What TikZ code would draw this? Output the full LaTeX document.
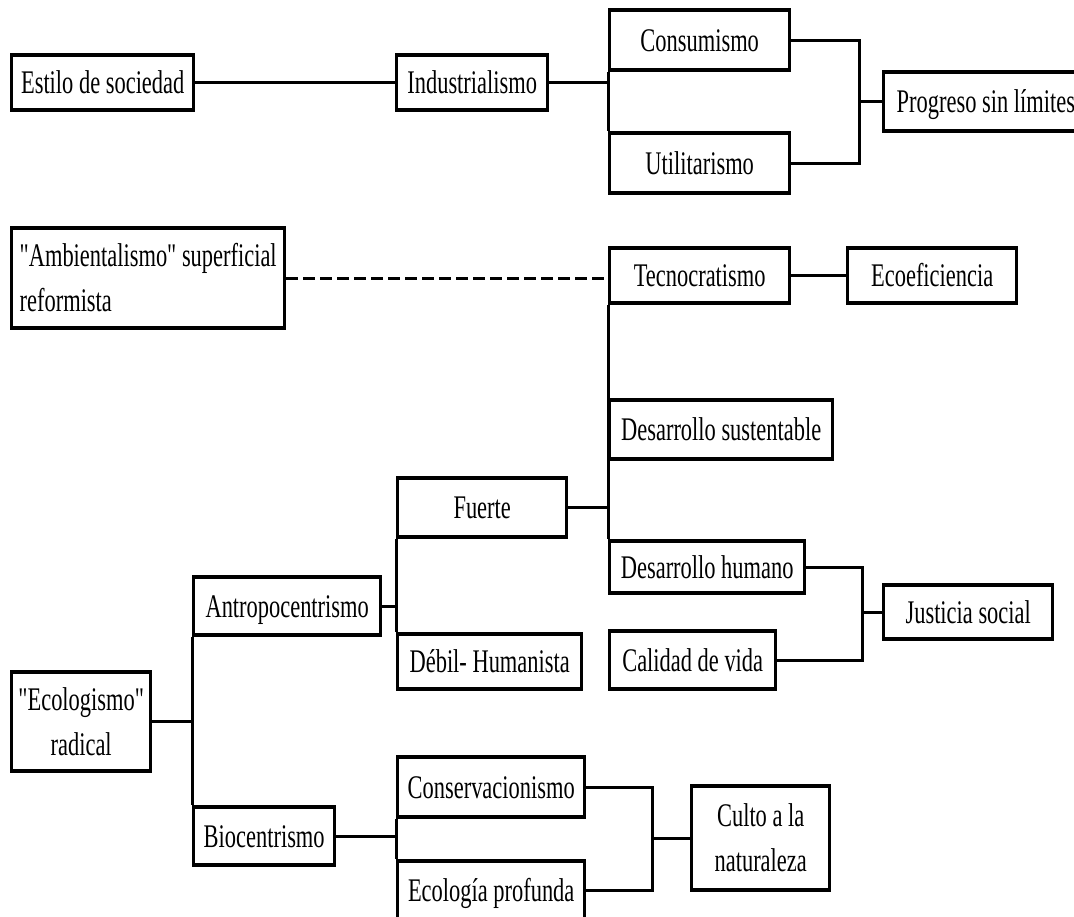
\documentclass[tikz,border=0pt]{standalone}
\usepackage{fontspec}
\setmainfont{Liberation Serif}[FakeStretch=0.68, Ligatures=TeXOff]

\begin{document}
\begin{tikzpicture}[x=1pt, y=-1pt,
  box/.style={draw, line width=3.4pt, inner sep=0pt, anchor=west,
    font=\fontsize{33}{45}\selectfont, text height=22pt, text depth=0pt},
  twoline/.style={text height=, text depth=},
  link/.style={line width=3pt},
  dashlink/.style={line width=3pt, dash pattern=on 12pt off 5pt}]
\clip (0,0) rectangle (1074,916);
\newcommand\colA{10}
\newcommand\colB{192}
\newcommand\colC{396}
\newcommand\colD{608}
\newcommand\colE{882}

% estilo de sociedad
\node[box, minimum width=182pt, minimum height=55pt] (estilo) at (\colA, 82.5) {Estilo de sociedad};
\node[box, minimum width=151pt, minimum height=55pt] (indus) at (\colC-1, 82.5) {Industrialismo};
\node[box, minimum width=180pt, minimum height=60pt] (consum) at (\colD, 40) {Consumismo};
\node[box, minimum width=180pt, minimum height=60pt] (utilit) at (\colD, 163) {Utilitarismo};
\node[box, minimum height=59pt, inner xsep=13pt] (progreso) at (\colE, 101.5) {Progreso sin límites};

% ambientalismo
\node[box, twoline, minimum width=272pt, minimum height=100pt, inner xsep=8pt, align=left] (ambient) at (\colA, 278) {"Ambientalismo" superficial\\reformista};
\node[box, minimum width=180pt, minimum height=55pt] (tecno) at (\colD, 275.5) {Tecnocratismo};
\node[box, minimum width=169pt, minimum height=55pt] (ecoef) at (846, 275.5) {Ecoeficiencia};
\node[box, minimum width=223pt, minimum height=59pt] (dsust) at (\colD, 429.5) {Desarrollo sustentable};
\node[box, minimum width=195pt, minimum height=52pt] (dhum) at (\colD, 567) {Desarrollo humano};
\node[box, minimum width=166pt, minimum height=58pt] (calidad) at (\colD, 660) {Calidad de vida};
\node[box, minimum width=169pt, minimum height=54pt] (justicia) at (\colE, 612) {Justicia social};

% ecologismo
\node[box, twoline, minimum width=139pt, minimum height=99pt, align=center] (ecolog) at (\colA, 721.5) {"Ecologismo"\\radical};
\node[box, minimum width=187pt, minimum height=58pt] (antropo) at (\colB, 606) {Antropocentrismo};
\node[box, minimum width=169pt, minimum height=59pt] (fuerte) at (\colC, 507.5) {Fuerte};
\node[box, minimum width=184pt, minimum height=55pt] (debil) at (\colC, 661.5) {Débil- Humanista};
\node[box, minimum width=141pt, minimum height=58pt] (biocen) at (\colB, 836) {Biocentrismo};
\node[box, minimum width=187pt, minimum height=60pt] (conserv) at (\colC, 787) {Conservacionismo};
\node[box, minimum width=187pt, minimum height=58pt] (ecoprof) at (\colC, 890) {Ecología profunda};
\node[box, twoline, minimum width=138pt, minimum height=104pt, align=center] (culto) at (690, 838) {Culto a la\\naturaleza};

% junctions
\coordinate (jprog) at (859, 101.5);
\coordinate (jjust) at (862, 612);
\coordinate (jculto) at (652, 838);

% top branch
\draw[link] (estilo) -- (indus);
\draw[link] (indus.east) -- (indus.east -| consum.west);
\draw[link] (consum.south west) -- (utilit.north west);
\draw[link] (consum.east) -| (jprog) |- (utilit.east);
\draw[link] (jprog) -- (progreso.west);

% middle branch
\draw[dashlink] (ambient.east) -- (ambient.east -| tecno.west);
\draw[link] (tecno) -- (ecoef);
\draw[link] (tecno.south west) -- (dhum.north west);
\draw[link] (fuerte.east) -- (fuerte.east -| tecno.west);
\draw[link] (dhum.east) -| (jjust) |- (calidad.east);
\draw[link] (jjust) -- (justicia.west);

% bottom branch
\draw[link] (ecolog.east) -- (ecolog.east -| antropo.west);
\draw[link] (antropo.south west) -- (biocen.north west);
\draw[link] (antropo.east) -- (antropo.east -| fuerte.west);
\draw[link] (fuerte.south west) -- (debil.north west);
\draw[link] (biocen.east) -- (biocen.east -| conserv.west);
\draw[link] (conserv.south west) -- (ecoprof.north west);
\draw[link] (conserv.east) -| (jculto) |- (ecoprof.east);
\draw[link] (jculto) -- (culto.west);
\end{tikzpicture}
\end{document}
